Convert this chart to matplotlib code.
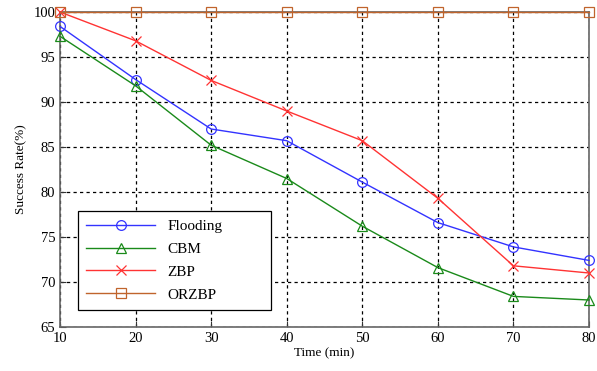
import numpy as np
import matplotlib.pyplot as plt

plt.rcParams['font.family'] = ['Liberation Serif', 'DejaVu Serif']

time_min = [10, 20, 30, 40, 50, 60, 70, 80]
flooding = [98.4, 92.5, 87.0, 85.7, 81.1, 76.6, 73.9, 72.4]
cbm = [97.3, 91.8, 85.2, 81.5, 76.2, 71.6, 68.4, 68.0]
zbp = [100.0, 96.8, 92.4, 89.0, 85.7, 79.3, 71.8, 71.0]
orzbp = [100.0, 100.0, 100.0, 100.0, 100.0, 100.0, 100.0, 100.0]

fig = plt.figure(figsize=(5.97, 3.71), dpi=100)
ax = fig.add_axes([60 / 597, 1 - 327 / 371, 529 / 597, 315 / 371])

mk = dict(markersize=7, markerfacecolor='none', linewidth=1.0, markeredgewidth=0.9,
          clip_on=False, zorder=3)
ax.plot(time_min, flooding, color='#3333ff', marker='o', label='Flooding', **mk)
ax.plot(time_min, cbm, color='#1a8a1a', marker='^', label='CBM', **mk)
ax.plot(time_min, zbp, color='#ff3333', marker='x', label='ZBP', **mk)
ax.plot(time_min, orzbp, color='#c0642c', marker='s', label='ORZBP', **mk)

ax.set_xlim(10, 80)
ax.set_ylim(65, 100)
ax.set_xticks(np.arange(10, 81, 10))
ax.set_yticks(np.arange(65, 101, 5))
ax.grid(True, color='black', linestyle=(0, (2.6, 2.6)), linewidth=0.9)
ax.tick_params(direction='in', labelsize=10.5, length=4, colors='#333333', labelcolor='black')
for s in ax.spines.values():
    s.set_color('#666666')
    s.set_linewidth(1.2)

ax.set_xlabel('Time (min)', fontsize=9.5, labelpad=2)
ax.set_ylabel('Success Rate(%)', fontsize=9.5, labelpad=4)

# legend box stretched to a fixed width, like the MATLAB default
leg = ax.legend(loc='lower left', bbox_to_anchor=(0.034, 0.054, 0.365, 0.324), mode='expand',
                fontsize=11, fancybox=False, edgecolor='black', framealpha=1,
                handlelength=4.5, borderpad=0.55, labelspacing=0.6, handletextpad=0.8,
                borderaxespad=0)
leg.get_frame().set_linewidth(0.9)

fig.savefig('out.png', dpi=100)
